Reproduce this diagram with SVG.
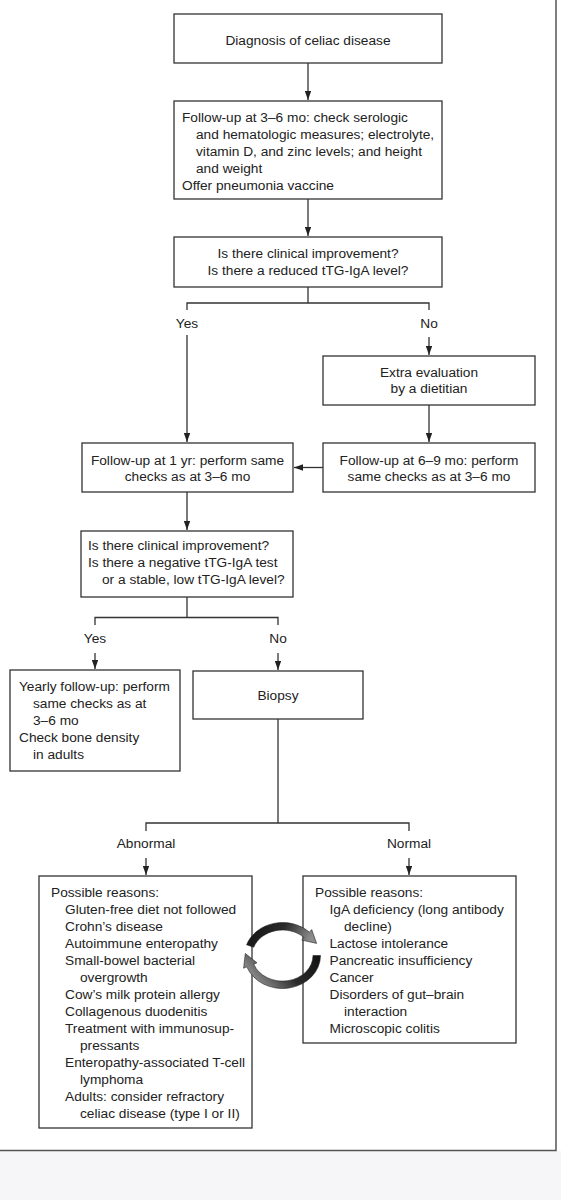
<svg xmlns="http://www.w3.org/2000/svg" width="561" height="1200" viewBox="0 0 561 1200">
<style>
.box{fill:#fff;stroke:#333;stroke-width:1.3}
.t{font-family:"Liberation Sans",Arial,sans-serif;font-size:13.7px;fill:#222}
.c{text-anchor:middle}
.ln{fill:none;stroke:#333;stroke-width:1.3}
.frame{fill:none;stroke:#555;stroke-width:1.5}
.cyc{stroke:#222;stroke-width:0.6}
</style>
<defs>
<marker id="ah" viewBox="0 0 10 7" refX="10" refY="3.5" markerWidth="9" markerHeight="6.3" markerUnits="userSpaceOnUse" orient="auto">
<path d="M0,0 L10,3.5 L0,7 Z" fill="#222"/>
</marker>
<linearGradient id="cgTop" x1="0" y1="0" x2="1" y2="0.2">
<stop offset="0" stop-color="#111"/>
<stop offset="0.55" stop-color="#2a2a2a"/>
<stop offset="1" stop-color="#8c8c8c"/>
</linearGradient>
<linearGradient id="cgBot" x1="1" y1="0" x2="0" y2="0.4">
<stop offset="0" stop-color="#111"/>
<stop offset="0.55" stop-color="#2a2a2a"/>
<stop offset="1" stop-color="#8c8c8c"/>
</linearGradient>
</defs>
<rect x="0" y="0" width="561" height="1200" fill="#fff"/>
<rect x="0" y="1151" width="561" height="49" fill="#f6f6f8"/>
<g id="frame">
<path class="frame" d="M556,0 V1150.5 H0"/>
</g>
<g id="connectors">
<path class="ln" d="M308,63 V100" marker-end="url(#ah)"/>
<path class="ln" d="M308,199 V236" marker-end="url(#ah)"/>
<path class="ln" d="M308,287 V303 M187,310 V303 H429 V310"/>
<path class="ln" d="M187,335 V442" marker-end="url(#ah)"/>
<path class="ln" d="M429,337 V355" marker-end="url(#ah)"/>
<path class="ln" d="M429,405 V442" marker-end="url(#ah)"/>
<path class="ln" d="M323,467.5 H294" marker-end="url(#ah)"/>
<path class="ln" d="M187,492 V530" marker-end="url(#ah)"/>
<path class="ln" d="M187,597 V617.5 M95,625 V617.5 H278 V625"/>
<path class="ln" d="M95,653 V669" marker-end="url(#ah)"/>
<path class="ln" d="M278,653 V670" marker-end="url(#ah)"/>
<path class="ln" d="M278,719 V823 M146,831 V823 H409 V831"/>
<path class="ln" d="M146,858 V875" marker-end="url(#ah)"/>
<path class="ln" d="M409,858 V875" marker-end="url(#ah)"/>
</g>
<g id="labels">
<text class="t c" x="187" y="328">Yes</text>
<text class="t c" x="429" y="328">No</text>
<text class="t c" x="95" y="643">Yes</text>
<text class="t c" x="278" y="643">No</text>
<text class="t c" x="146" y="848">Abnormal</text>
<text class="t c" x="409" y="848">Normal</text>
</g>
<g id="n1">
<rect class="box" x="174" y="14" width="268" height="49"/>
<text class="t c" x="308" y="44.5">Diagnosis of celiac disease</text>
</g>
<g id="n2">
<rect class="box" x="174" y="101" width="268" height="98"/>
<text class="t" x="182" y="121.5">Follow-up at 3–6 mo: check serologic</text>
<text class="t" x="196" y="138.5">and hematologic measures; electrolyte,</text>
<text class="t" x="196" y="155.5">vitamin D, and zinc levels; and height</text>
<text class="t" x="196" y="172.5">and weight</text>
<text class="t" x="182" y="189.5">Offer pneumonia vaccine</text>
</g>
<g id="n3">
<rect class="box" x="174" y="237" width="268" height="50"/>
<text class="t c" x="308" y="258">Is there clinical improvement?</text>
<text class="t c" x="308" y="275">Is there a reduced tTG-IgA level?</text>
</g>
<g id="n4">
<rect class="box" x="323" y="356" width="212" height="49"/>
<text class="t c" x="429" y="376.5">Extra evaluation</text>
<text class="t c" x="429" y="393">by a dietitian</text>
</g>
<g id="n5">
<rect class="box" x="323" y="443" width="212" height="49"/>
<text class="t c" x="429" y="464.5">Follow-up at 6–9 mo: perform</text>
<text class="t c" x="429" y="481">same checks as at 3–6 mo</text>
</g>
<g id="n6">
<rect class="box" x="82" y="443" width="211" height="49"/>
<text class="t c" x="187.5" y="464.5">Follow-up at 1 yr: perform same</text>
<text class="t c" x="187.5" y="481">checks as at 3–6 mo</text>
</g>
<g id="n7">
<rect class="box" x="81" y="531" width="212" height="66"/>
<text class="t" x="88" y="550">Is there clinical improvement?</text>
<text class="t" x="88" y="567">Is there a negative tTG-IgA test</text>
<text class="t" x="102" y="584">or a stable, low tTG-IgA level?</text>
</g>
<g id="n8">
<rect class="box" x="10" y="670" width="170" height="101"/>
<text class="t" x="19" y="690.5">Yearly follow-up: perform</text>
<text class="t" x="33" y="707.5">same checks as at</text>
<text class="t" x="33" y="724.5">3–6 mo</text>
<text class="t" x="19" y="741.5">Check bone density</text>
<text class="t" x="33" y="758.5">in adults</text>
</g>
<g id="n9">
<rect class="box" x="193" y="671" width="170" height="48"/>
<text class="t c" x="278" y="700">Biopsy</text>
</g>
<g id="n10">
<rect class="box" x="39" y="876" width="213" height="252"/>
<text class="t" x="51" y="896.5">Possible reasons:</text>
<text class="t" x="65" y="913.5">Gluten-free diet not followed</text>
<text class="t" x="65" y="930.5">Crohn’s disease</text>
<text class="t" x="65" y="947.5">Autoimmune enteropathy</text>
<text class="t" x="65" y="964.5">Small-bowel bacterial</text>
<text class="t" x="80" y="981.5">overgrowth</text>
<text class="t" x="65" y="998.5">Cow’s milk protein allergy</text>
<text class="t" x="65" y="1015.5">Collagenous duodenitis</text>
<text class="t" x="65" y="1032.5">Treatment with immunosup-</text>
<text class="t" x="80" y="1049.5">pressants</text>
<text class="t" x="65" y="1066.5">Enteropathy-associated T-cell</text>
<text class="t" x="80" y="1083.5">lymphoma</text>
<text class="t" x="65" y="1100.5">Adults: consider refractory</text>
<text class="t" x="80" y="1117.5">celiac disease (type I or II)</text>
</g>
<g id="n11">
<rect class="box" x="303" y="876" width="213" height="167"/>
<text class="t" x="315" y="896.5">Possible reasons:</text>
<text class="t" x="329.5" y="913.5">IgA deficiency (long antibody</text>
<text class="t" x="344" y="930.5">decline)</text>
<text class="t" x="329.5" y="947.5">Lactose intolerance</text>
<text class="t" x="329.5" y="964.5">Pancreatic insufficiency</text>
<text class="t" x="329.5" y="981.5">Cancer</text>
<text class="t" x="329.5" y="998.5">Disorders of gut–brain</text>
<text class="t" x="344" y="1015.5">interaction</text>
<text class="t" x="329.5" y="1032.5">Microscopic colitis</text>
</g>
<g id="cycle">
<path class="cyc" fill="url(#cgTop)" d="M246.6,944.8 A38,33 0 0 1 309.4,932.2 L311.7,929.6 L316.6,943.4 L301.8,940.1 L304.1,937.5 A30.5,25.5 0 0 0 253.7,947.2 Z"/>
<path class="cyc" fill="url(#cgBot)" d="M320.5,955.5 A38,33 0 0 1 246.8,966.8 L243.6,968.2 L245.3,953.5 L257,962.8 L253.8,964.2 A30.5,25.5 0 0 0 313,955.5 Z"/>
</g>
</svg>
